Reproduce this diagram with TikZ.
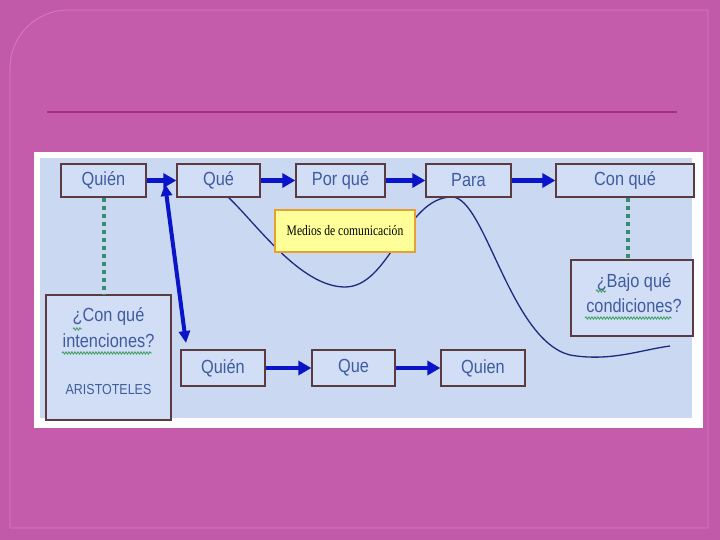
\documentclass[tikz,border=0pt]{standalone}
\usepackage{fontspec}
\setmainfont{Liberation Sans}
\newfontfamily\narrowsf[FakeStretch=0.86]{Liberation Sans}
\newfontfamily\narrowserif[FakeStretch=0.8]{Liberation Serif}
\usetikzlibrary{arrows.meta,decorations.pathmorphing}
\definecolor{outerpink}{HTML}{C25AAA}
\definecolor{innerpink}{HTML}{C55CAB}
\definecolor{panelline}{HTML}{D57AC8}
\definecolor{ruleline}{HTML}{A8307E}
\definecolor{panelblue}{HTML}{CAD8F2}
\definecolor{boxfill}{HTML}{D2DEF6}
\definecolor{boxedge}{HTML}{5A3C40}
\definecolor{labelblue}{HTML}{3F5CA0}
\definecolor{arrowblue}{HTML}{0A14C8}
\definecolor{dotgreen}{HTML}{3A8C6E}
\definecolor{curveblue}{HTML}{1E2A80}
\definecolor{medyellow}{HTML}{FFFF99}
\definecolor{medorange}{HTML}{E8A030}
\definecolor{squiggle}{HTML}{3AA060}
\begin{document}
\begin{tikzpicture}[x=1pt,y=-1pt,
  box/.style={draw=boxedge,line width=1.3pt,fill=boxfill,inner sep=0pt,
    text=labelblue,font=\narrowsf\fontsize{19}{21}\selectfont},
  lbl/.style={text=labelblue,inner sep=0pt,font=\narrowsf\fontsize{19}{21}\selectfont},
  flow/.style={draw=arrowblue,line width=4.5pt,-{Triangle[length=13pt,width=14pt]}},
  dflow/.style={draw=arrowblue,line width=4pt,{Triangle[length=12pt,width=11pt]}-{Triangle[length=12pt,width=11pt]}},
  dotlink/.style={draw=dotgreen,line width=4pt,dash pattern=on 4pt off 4pt},
  wave/.style={draw=curveblue,line width=1.3pt},
  spell/.style={draw=squiggle,line width=0.8pt,decorate,decoration={snake,amplitude=1.2pt,segment length=3pt}}]
\useasboundingbox (0,0) rectangle (720,540);
% background
\fill[outerpink] (0,0) rectangle (720,540);
\draw[panelline,fill=innerpink,line width=0.8pt] (10,528) -- (10,68) arc[start angle=180,end angle=270,radius=58] -- (708,10) -- (708,528) -- cycle;
\draw[ruleline,line width=1.2pt] (47,112) -- (677,112);
% picture frame
\fill[white] (34,152) rectangle (703,428);
\fill[panelblue] (40,158) rectangle (692,418);
% wave curve (behind the yellow box)
\draw[wave] (228,197) .. controls (255,222) and (300,287) .. (345,287)
  .. controls (390,287) and (405,197) .. (452,197)
  .. controls (485,197) and (510,340) .. (570,355)
  .. controls (610,362) and (640,350) .. (670,346);
% top row
\node[box,minimum width=85pt,minimum height=33pt] (quien) at (103.5,180.5) {Quién};
\node[box,minimum width=83pt,minimum height=33pt] (que) at (218.5,180.5) {Qué};
\node[box,minimum width=89pt,minimum height=33pt] (porque) at (340.5,180.5) {Por qué};
\node[box,minimum width=85pt,minimum height=33pt] (para) at (468.5,180.5) {Para};
\node[box,minimum width=138pt,minimum height=33pt] (conque) at (625,180.5) {Con qué};
% medios
\node[draw=medorange,line width=1.3pt,fill=medyellow,minimum width=140pt,minimum height=42pt,
  inner sep=0pt,font=\narrowserif\fontsize{14.5}{16}\selectfont] (medios) at (345,231) {Medios de comunicación};
% left tall box
\node[box,minimum width=125pt,minimum height=125pt] (intbox) at (108.5,357.5) {};
\node[lbl] (int1) at (108.5,316) {¿Con qué};
\node[lbl] (int2) at (108.5,341) {intenciones?};
\node[lbl,font=\narrowsf\fontsize{14.5}{16}\selectfont] (aris) at (108.5,390) {ARISTOTELES};
% right box
\node[box,minimum width=122pt,minimum height=76pt] (bajobox) at (632,298) {};
\node[lbl] (bajo1) at (634,282) {¿Bajo qué};
\node[lbl] (bajo2) at (634,306) {condiciones?};
% bottom row
\node[box,minimum width=84pt,minimum height=36pt] (quienb) at (223,368) {Quién};
\node[box,minimum width=83pt,minimum height=36pt] (queb) at (353.5,368) {Que};
\node[box,minimum width=84pt,minimum height=36pt] (quienc) at (483,368) {Quien};
% spell-check squiggles
\draw[spell] (73,329) -- (82,329);
\draw[spell] (62,353) -- (152,353);
\draw[spell] (596,291) -- (606,291);
\draw[spell] (585,318) -- (672,318);
% arrows
\draw[flow] (quien.east) -- (que.west);
\draw[flow] (que.east) -- (porque.west);
\draw[flow] (porque.east) -- (para.west);
\draw[flow] (para.east) -- (conque.west);
\draw[flow] (quienb.east) -- (queb.west);
\draw[flow] (queb.east) -- (quienc.west);
\coordinate (dtop) at (165,184);
\coordinate (dbot) at (186,343);
\draw[dflow] (dtop) -- (dbot);
% dotted links
\draw[dotlink] (quien.south -| 104,0) -- (intbox.north -| 104,0);
\draw[dotlink] (conque.south -| 628,0) -- (bajobox.north -| 628,0);
\end{tikzpicture}
\end{document}
